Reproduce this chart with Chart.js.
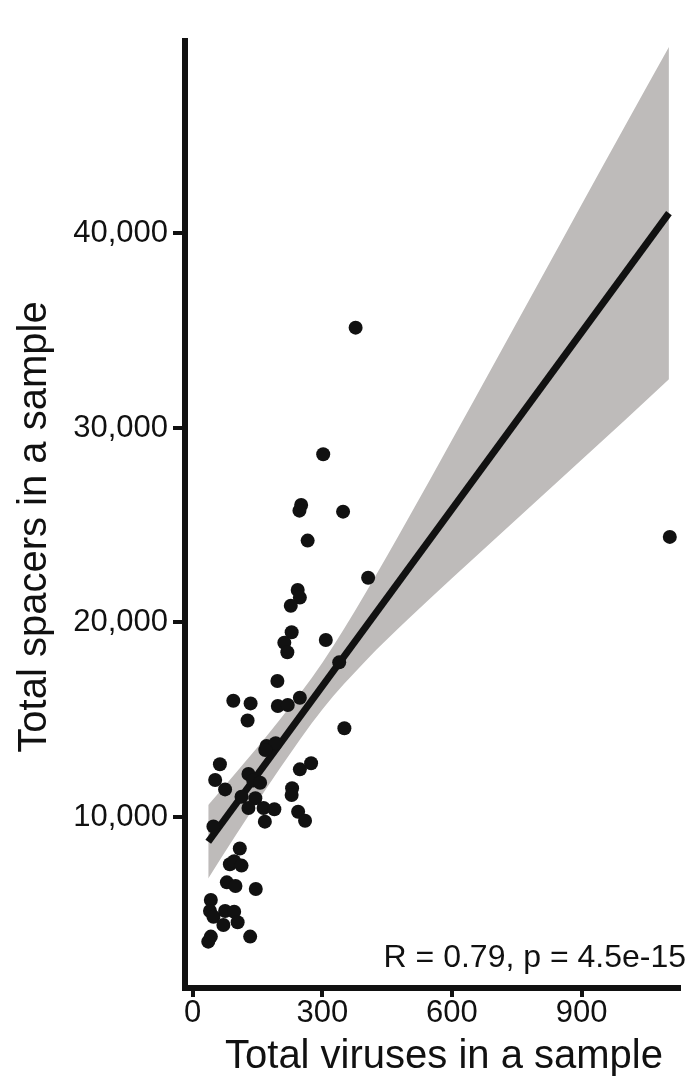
<!DOCTYPE html>
<html>
<head>
<meta charset="utf-8">
<script src="https://cdn.jsdelivr.net/npm/chart.js@4"></script>
<style>
  html, body { margin: 0; padding: 0; background: #fff; }
  canvas { display: block; }
</style>
</head>
<body>
<canvas id="chart" width="693" height="1078"></canvas>
<script>
// Samples: total viruses vs total spacers
const virusCounts = [377, 302, 251, 247, 348, 266, 406, 243, 248, 227,
  229, 212, 219, 308, 339, 196, 94, 134, 197, 220,
  248, 127, 351, 171, 192, 168, 63, 52, 75, 129,
  140, 156, 248, 274, 230, 229, 113, 145, 129, 164,
  189, 167, 244, 260, 48, 109, 86, 96, 113, 79,
  99, 146, 42, 40, 48, 75, 96, 71, 104, 42,
  36, 133, 1104];
const spacerCounts = [35160, 28650, 26040, 25750, 25700, 24210, 22300, 21670, 21280, 20860,
  19500, 18960, 18470, 19100, 17950, 16990, 15980, 15840, 15710, 15760,
  16130, 14960, 14560, 13650, 13790, 13440, 12710, 11900, 11420, 12210,
  11880, 11760, 12450, 12760, 11480, 11130, 11040, 10960, 10460, 10460,
  10400, 9760, 10270, 9810, 9510, 8380, 7570, 7730, 7500, 6640,
  6450, 6300, 5730, 5170, 4870, 5170, 5130, 4450, 4590, 3850,
  3590, 3850, 24400];

// Fitted line and its confidence band
const fitX = [36, 1102];
const fitY = [8730, 41050];
const bandX = [36, 100, 200, 300, 400, 500, 600, 700, 800, 900, 1000, 1102];
const bandUpper = [10620, 12270, 14960, 17930, 21520, 25400, 29380, 33410, 37440, 41490, 45520, 49590];
const bandLower = [6840, 9070, 12440, 15530, 18020, 20200, 22280, 24310, 26340, 28370, 30400, 32510];

const xTicks = [0, 300, 600, 900];
const yTicks = [10000, 20000, 30000, 40000];

const xTitle = 'Total viruses in a sample';
const yTitle = 'Total spacers in a sample';
const statLabel = 'R = 0.79, p = 4.5e-15';

const FONT = '"Liberation Sans", Arial, Helvetica, sans-serif';
const INK = '#111111';

function toPoints(xs, ys) {
    return xs.map((x, i) => ({ x: x, y: ys[i] }));
}

// Axis titles and the correlation label
const textPlugin = {
    id: 'figureText',
    afterDraw(chart) {
        const ctx = chart.ctx;
        ctx.save();
        ctx.fillStyle = INK;
        ctx.font = '40px ' + FONT;
        ctx.textAlign = 'center';
        ctx.textBaseline = 'alphabetic';
        ctx.fillText(xTitle, 444, 1068);

        ctx.save();
        ctx.translate(46, 527);
        ctx.rotate(-Math.PI / 2);
        ctx.fillText(yTitle, 0, 0);
        ctx.restore();

        ctx.font = '32px ' + FONT;
        ctx.textAlign = 'right';
        ctx.fillText(statLabel, 686, 967);
        ctx.restore();
    }
};

const ctx = document.getElementById('chart').getContext('2d');
new Chart(ctx, {
    type: 'scatter',
    data: {
        datasets: [
            {
                label: 'samples',
                data: toPoints(virusCounts, spacerCounts),
                backgroundColor: INK,
                borderWidth: 0,
                pointRadius: 7,
                pointHoverRadius: 7
            },
            {
                label: 'fit',
                type: 'line',
                data: toPoints(fitX, fitY),
                borderColor: INK,
                borderWidth: 7,
                pointRadius: 0,
                fill: false
            },
            {
                label: 'upper',
                type: 'line',
                data: toPoints(bandX, bandUpper),
                borderWidth: 0,
                borderColor: 'rgba(0,0,0,0)',
                backgroundColor: '#bebbba',
                pointRadius: 0,
                cubicInterpolationMode: 'monotone',
                fill: '+1'
            },
            {
                label: 'lower',
                type: 'line',
                data: toPoints(bandX, bandLower),
                borderWidth: 0,
                borderColor: 'rgba(0,0,0,0)',
                pointRadius: 0,
                cubicInterpolationMode: 'monotone',
                fill: false
            }
        ]
    },
    options: {
        responsive: false,
        animation: false,
        layout: { padding: { top: 41, right: 15, left: 0, bottom: 0 } },
        plugins: {
            legend: { display: false },
            tooltip: { enabled: false }
        },
        scales: {
            x: {
                type: 'linear',
                min: -17.8,
                max: 1123,
                border: { display: true, width: 6, color: INK },
                grid: {
                    drawOnChartArea: false,
                    tickLength: 9,
                    tickWidth: 4,
                    tickColor: INK,
                    lineWidth: 6,
                    color: INK
                },
                ticks: {
                    color: INK,
                    padding: 1,
                    maxRotation: 0,
                    font: { family: FONT, size: 31, lineHeight: 1 }
                },
                afterBuildTicks: scale => {
                    scale.ticks = xTicks.map(v => ({ value: v }));
                },
                afterFit: scale => { scale.height = 90; }
            },
            y: {
                type: 'linear',
                min: 1208,
                max: 49897,
                border: { display: true, width: 6, color: INK },
                grid: {
                    drawOnChartArea: false,
                    tickLength: 12,
                    tickWidth: 4,
                    tickColor: INK,
                    lineWidth: 6,
                    color: INK
                },
                ticks: {
                    color: INK,
                    padding: 5,
                    font: { family: FONT, size: 31, lineHeight: 1 },
                    callback: value => value.toLocaleString('en-US')
                },
                afterBuildTicks: scale => {
                    scale.ticks = yTicks.map(v => ({ value: v }));
                },
                afterFit: scale => { scale.width = 185; }
            }
        }
    },
    plugins: [textPlugin]
});
</script>
</body>
</html>
